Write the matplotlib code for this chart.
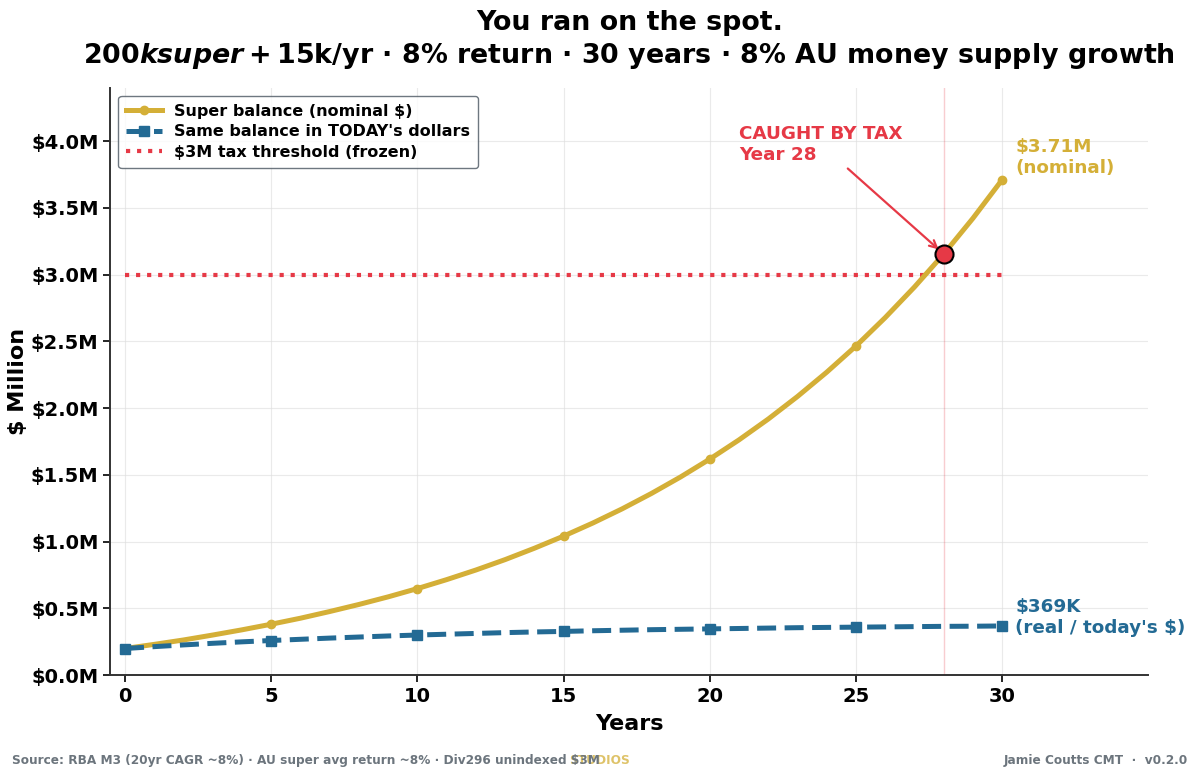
import matplotlib
matplotlib.use("Agg")
import matplotlib.pyplot as plt
from matplotlib.ticker import FuncFormatter, MultipleLocator

# balances in $ millions, one value per year
years = list(range(31))
nominal = [
    0.200, 0.231, 0.264, 0.301, 0.340, 0.382, 0.427, 0.477, 0.530, 0.587,
    0.649, 0.716, 0.788, 0.866, 0.951, 1.042, 1.140, 1.246, 1.361, 1.485,
    1.619, 1.763, 1.919, 2.088, 2.270, 2.466, 2.679, 2.908, 3.155, 3.423,
    3.712,
]
real = [
    0.200, 0.214, 0.227, 0.239, 0.250, 0.260, 0.269, 0.278, 0.286, 0.294,
    0.301, 0.307, 0.313, 0.319, 0.324, 0.328, 0.333, 0.337, 0.341, 0.344,
    0.347, 0.350, 0.353, 0.356, 0.358, 0.360, 0.362, 0.364, 0.366, 0.367,
    0.369,
]
threshold = 3.0
caught_year = 28
caught_value = 3.155

GOLD = "#D4AF37"
BLUE = "#236A94"
RED = "#E63946"
GREY = "#6C757D"

plt.rcParams["font.family"] = "DejaVu Sans"
plt.rcParams["font.weight"] = "bold"

fig, ax = plt.subplots(figsize=(12, 7.77), dpi=100)
fig.subplots_adjust(left=0.092, right=0.957, top=0.887, bottom=0.131)

ax.plot(years, nominal, color=GOLD, lw=3.6, marker="o", ms=6, markevery=5,
        label="Super balance (nominal $)", zorder=4)
ax.plot(years, real, color=BLUE, lw=3.6, ls="--", dashes=(3.8, 1.7), marker="s", ms=6.5,
        markevery=5, label="Same balance in TODAY's dollars", zorder=4)
ax.plot([0, 30], [threshold, threshold], color=RED, lw=3, ls=":",
        label="$3M tax threshold (frozen)", zorder=3)

ax.axvline(caught_year, color=RED, lw=1, alpha=0.25, zorder=1)
ax.plot([caught_year], [caught_value], "o", color=RED, ms=13, mec="black", mew=1.5, zorder=6)

ax.annotate("CAUGHT BY TAX\nYear 28", xy=(caught_year - 0.1, caught_value + 0.02),
            xytext=(21.0, 3.83), ha="left", va="bottom", fontsize=13.2, fontweight="bold",
            color=RED, arrowprops=dict(arrowstyle="->", color=RED, lw=1.6), zorder=5)

ax.text(30.45, 3.88, "$3.71M\n(nominal)", color=GOLD, fontsize=13.2, fontweight="bold",
        ha="left", va="center")
ax.text(30.45, 0.43, "\\$369K\n(real / today's \\$)", color=BLUE, fontsize=13.2,
        fontweight="bold", ha="left", va="center")

ax.set_xlim(-0.5, 35)
ax.set_ylim(0, 4.4)
ax.set_xticks(range(0, 31, 5))
ax.yaxis.set_major_locator(MultipleLocator(0.5))
ax.yaxis.set_major_formatter(FuncFormatter(lambda v, p: f"${v:.1f}M"))
ax.tick_params(labelsize=14, width=1.2, length=5, colors="black")
for lab in ax.get_xticklabels() + ax.get_yticklabels():
    lab.set_fontweight("bold")

ax.grid(True, color="#dddddd", lw=0.8, alpha=0.6)
ax.set_axisbelow(True)
for side in ("top", "right"):
    ax.spines[side].set_visible(False)
for side in ("left", "bottom"):
    ax.spines[side].set_color("#333333")
    ax.spines[side].set_linewidth(1.4)

ax.set_xlabel("Years", fontsize=16, fontweight="bold", labelpad=6)
ax.set_ylabel("$ Million", fontsize=16, fontweight="bold", labelpad=2)
ax.set_title("You ran on the spot.\n$200k super + $15k/yr · 8% return · 30 years · 8% AU money supply growth",
             fontsize=19.4, fontweight="bold", pad=18)

leg = ax.legend(loc="upper left", fontsize=11.5, frameon=True, borderpad=0.5,
                handlelength=2.2, labelspacing=0.35)
leg.get_frame().set_edgecolor("#4A5560")
leg.get_frame().set_linewidth(1.0)
for t in leg.get_texts():
    t.set_fontweight("bold")

fig.text(0.01, 0.021, "Source: RBA M3 (20yr CAGR ~8%) · AU super avg return ~8% · Div296 unindexed $3M",
         fontsize=8.7, fontweight="bold", color=GREY, ha="left", va="center", zorder=3)
fig.text(0.5, 0.021, "STUDIOS", fontsize=8.7, fontweight="bold", color=GOLD, alpha=0.75,
         ha="center", va="center", zorder=2)
fig.text(0.99, 0.021, "Jamie Coutts CMT  ·  v0.2.0", fontsize=8.7, fontweight="bold",
         color=GREY, ha="right", va="center")

fig.savefig("out.png", dpi=100)
